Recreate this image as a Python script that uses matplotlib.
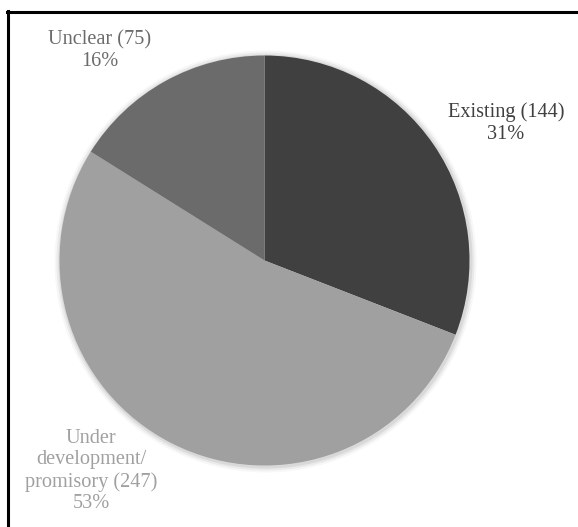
import matplotlib
matplotlib.use("Agg")
import matplotlib.pyplot as plt
from matplotlib.lines import Line2D
from matplotlib.patches import Circle

categories = ["Existing", "Under\ndevelopment/\npromisory", "Unclear"]
counts = [144, 247, 75]
percents = [31, 53, 16]
colors = ["#404040", "#a0a0a0", "#6b6b6b"]

W, H = 578, 527
fig = plt.figure(figsize=(W / 100, H / 100), dpi=100)
ax = fig.add_axes([0, 0, 1, 1])

cx, cy, r = 264.5, H - 260.5, 205

# soft shadow
for k, a in [(6, 0.03), (4, 0.05), (2, 0.07)]:
    ax.add_patch(Circle((cx + 1, cy - 1), r + k, color="black", alpha=a, lw=0, zorder=0))

wedges, _ = ax.pie(counts, colors=colors, startangle=90, counterclock=False,
                   center=(cx, cy), radius=r, frame=True,
                   wedgeprops=dict(linewidth=0))
ax.set_xlim(0, W)
ax.set_ylim(0, H)
ax.set_aspect("equal")
ax.axis("off")

label_pos = [(506, H - 123), (91, H - 471), (100, H - 51)]
for cat, n, p, c, (x, y) in zip(categories, counts, percents, colors, label_pos):
    ax.text(x, y, f"{cat} ({n})\n{p}%", ha="center", va="center",
            fontsize=14.6, family="Liberation Serif", color=c, linespacing=1.17)

fig.add_artist(Line2D([7 / W, 1], [1 - 12 / H, 1 - 12 / H], color="black", lw=2.2,
                      transform=fig.transFigure))
fig.add_artist(Line2D([8 / W, 8 / W], [0, 1 - 11 / H], color="black", lw=2.2,
                      transform=fig.transFigure))

fig.savefig("out.png", dpi=100, facecolor="white")
